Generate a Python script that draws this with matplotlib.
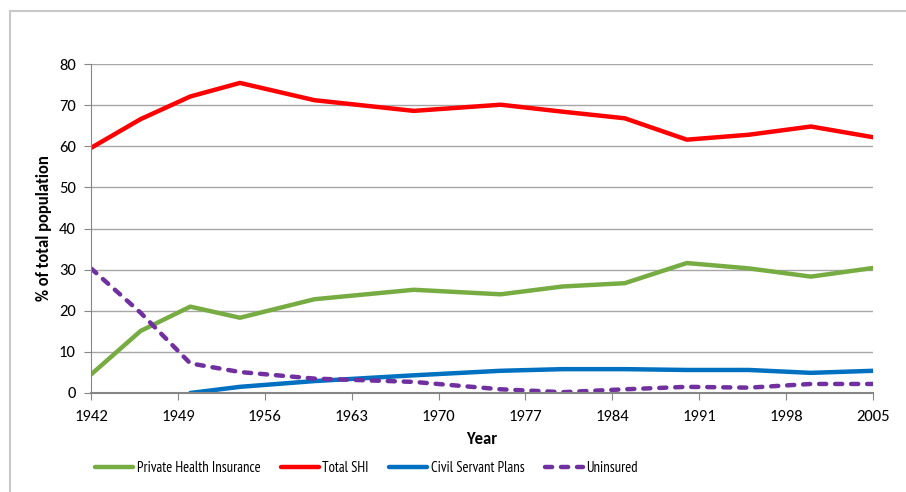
import matplotlib
matplotlib.use("Agg")
import matplotlib.pyplot as plt
import numpy as np
from matplotlib.patches import Rectangle

plt.rcParams["font.family"] = ["Carlito", "DejaVu Sans"]

years = [1942, 1946, 1950, 1954, 1960, 1968, 1975, 1980, 1985, 1990, 1995, 2000, 2005]
private = [4.5, 15.1, 21.0, 18.3, 22.8, 25.1, 24.0, 25.9, 26.7, 31.6, 30.3, 28.3, 30.4]
total_shi = [59.6, 66.6, 72.1, 75.4, 71.2, 68.6, 70.1, 68.4, 66.8, 61.6, 62.8, 64.8, 62.2]
civil = [np.nan, np.nan, 0.0, 1.5, 2.9, 4.3, 5.4, 5.8, 5.8, 5.6, 5.6, 4.9, 5.4]
uninsured = [30.3, 19.5, 7.2, 5.1, 3.5, 2.7, 0.9, 0.2, 0.9, 1.5, 1.3, 2.2, 2.2]

xticks = [1942, 1949, 1956, 1963, 1970, 1977, 1984, 1991, 1998, 2005]

fig = plt.figure(figsize=(9.06, 4.92), dpi=100)
ax = fig.add_axes([91 / 906, 1 - 393 / 492, (873 - 91) / 906, (393 - 64) / 492])

# chart frame
fig.patches.append(Rectangle((10 / 906, -0.1), 1.2, 1 - 11 / 492 + 0.1,
                             transform=fig.transFigure, fill=False,
                             edgecolor="#c8c8c8", linewidth=1.5))

ax.plot(years, private, color="#77ac43", lw=3.2, label="Private Health Insurance", solid_capstyle="round")
ax.plot(years, total_shi, color="#ff0000", lw=3.2, label="Total SHI", solid_capstyle="round")
ax.plot(years, civil, color="#0070c0", lw=3.2, label="Civil Servant Plans", solid_capstyle="round")
ax.plot(years, uninsured, color="#7030a0", lw=3.2, ls=(0, (1.6, 2.0)), label="Uninsured",
        dash_capstyle="round")

ax.set_xlim(1942, 2005)
ax.set_ylim(0, 80)
ax.set_xticks(xticks)
ax.set_yticks(range(0, 81, 10))
ax.grid(axis="y", color="#a6a6a6", lw=1)
ax.set_axisbelow(True)
for s in ["top", "right"]:
    ax.spines[s].set_visible(False)
ax.spines["left"].set_color("#868686")
ax.spines["bottom"].set_color("#868686")
ax.spines["bottom"].set_linewidth(1.5)
ax.tick_params(axis="both", colors="#868686", labelcolor="black", labelsize=12, length=5)
ax.tick_params(axis="y", pad=6)
ax.tick_params(axis="x", pad=7)

ax.set_ylabel("% of total population", fontsize=12, fontweight="bold")
ax.yaxis.set_label_coords(-0.05, 0.5)
ax.set_xlabel("Year", fontsize=12, fontweight="bold")
ax.xaxis.set_label_coords(0.5, -0.115)

fig.legend(loc="center left", bbox_to_anchor=(95 / 906, 24 / 492), ncol=4, frameon=False,
           prop={"family": ["PT Sans Narrow", "Carlito"], "size": 10.5}, handlelength=2.6,
           columnspacing=1.4, handletextpad=0.25, borderaxespad=0, borderpad=0)

fig.savefig("out.png", dpi=100)
